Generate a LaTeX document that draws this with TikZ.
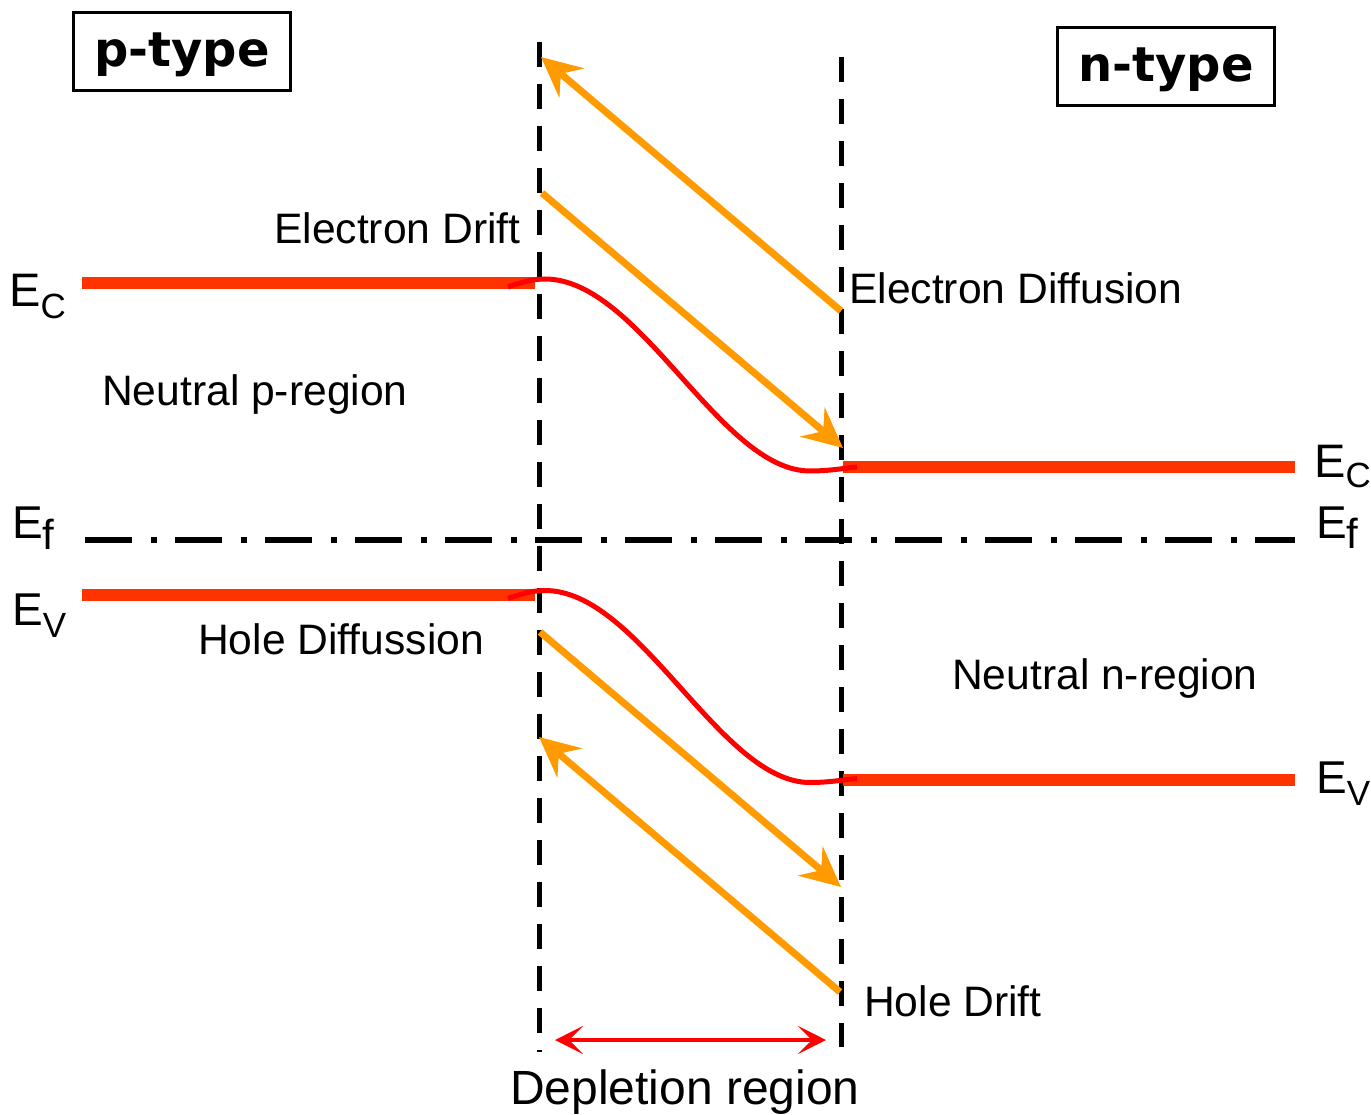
\documentclass[tikz,border=0pt]{standalone}
\usepackage{fontspec}
\setmainfont{Liberation Sans}
\newfontfamily\dvs{DejaVu Sans}
\usetikzlibrary{arrows.meta}
\definecolor{levelc}{RGB}{255,51,0}
\definecolor{curvec}{RGB}{255,0,0}
\definecolor{arrowc}{RGB}{255,155,0}
\newcommand\myfs[1]{\fontsize{#1pt}{#1pt}\selectfont}
\begin{document}
\begin{tikzpicture}[x=1pt,y=-1pt,
  lbl/.style={anchor=base west,inner sep=0pt,font=\myfs{42.6}},
  elbl/.style={anchor=base west,inner sep=0pt},
  typebox/.style={draw,line width=3pt,minimum width=217pt,minimum height=78pt,
     inner sep=0pt,text height=36pt,text depth=5pt,font=\dvs\bfseries\myfs{48}},
  vdash/.style={line width=5pt,dash pattern=on 25pt off 17pt},
  fermi/.style={line width=5.5pt,dash pattern=on 47pt off 19pt on 6pt off 18pt},
  level/.style={levelc,line width=12pt},
  band/.style={curvec,line width=5pt},
  flow/.style={arrowc,line width=7pt,-{Stealth[length=40pt,width=38pt,inset=14pt]}},
  width/.style={curvec,line width=4pt,{Stealth[length=28pt,width=28pt,inset=14pt]}-{Stealth[length=28pt,width=28pt,inset=14pt]}}
]
\useasboundingbox (0,0) rectangle (1371,1115);

% type boxes
\node[typebox] (ptype) at (182,51.5) {p-type};
\node[typebox] (ntype) at (1166,66.5) {n-type};

% boundaries of depletion region
\coordinate (LT) at (539,42);
\coordinate (LB) at (539,1052);
\coordinate (RT) at (841,57);
\coordinate (RB) at (841,1047);
\draw[vdash] (LT) -- (LB);
\draw[vdash] (RT) -- (RB);

% Fermi level
\coordinate (EfL) at (85,540);
\coordinate (EfR) at (1295,540);
\draw[fermi] (EfL) -- (EfR);

% band levels
\coordinate (ECL1) at (82,283.5);  \coordinate (ECL2) at (535,283.5);
\coordinate (ECR1) at (843,467);   \coordinate (ECR2) at (1295,467);
\coordinate (EVL1) at (82,595);    \coordinate (EVL2) at (535,595);
\coordinate (EVR1) at (843,779.5); \coordinate (EVR2) at (1295,779.5);
\draw[level] (ECL1) -- (ECL2);
\draw[level] (ECR1) -- (ECR2);
\draw[level] (EVL1) -- (EVL2);
\draw[level] (EVR1) -- (EVR2);

% band bending
\draw[band] (508,287) .. controls (522,282) and (533,279) .. (545,279)
  .. controls (640,279) and (720,471) .. (810,471)
  .. controls (830,471) and (845,468) .. (857,467);
\draw[band] (508,598.5) .. controls (522,593.5) and (533,590.5) .. (545,590.5)
  .. controls (640,590.5) and (720,782.5) .. (810,782.5)
  .. controls (830,782.5) and (845,779.5) .. (857,778.5);

% carrier flows
\coordinate (eDiffS) at (841,311);  \coordinate (eDiffE) at (541,57);
\coordinate (eDriftS) at (542,193); \coordinate (eDriftE) at (843,448);
\coordinate (hDiffS) at (540,632);  \coordinate (hDiffE) at (841,887);
\coordinate (hDriftS) at (840,992); \coordinate (hDriftE) at (539,737);
\draw[flow] (eDiffS) -- (eDiffE);
\draw[flow] (eDriftS) -- (eDriftE);
\draw[flow] (hDiffS) -- (hDiffE);
\draw[flow] (hDriftS) -- (hDriftE);

% depletion width
\coordinate (WL) at (555,1040);
\coordinate (WR) at (826,1040);
\draw[width] (WL) -- (WR);

% labels
\node[lbl] (tEDrift) at (274,244) {Electron Drift};
\node[lbl] (tEDiff) at (849,304) {Electron Diffusion};
\node[lbl] (tNp) at (102,405) {Neutral p-region};
\node[lbl] (tHDiff) at (198,654) {Hole Diffussion};
\node[lbl] (tNn) at (952,689) {Neutral n-region};
\node[lbl] (tHDrift) at (864,1016) {Hole Drift};
\node[elbl,font=\myfs{48}] (tDep) at (510,1104) {Depletion region};

% energy labels
\node[elbl] (ECLt) at (9,307) {\myfs{47}E\raisebox{-12pt}{\myfs{35}C}};
\node[elbl] (EfLt) at (12,538) {\myfs{46}E\raisebox{-11pt}{\myfs{42}f}};
\node[elbl] (EVLt) at (12,625) {\myfs{46}E\raisebox{-12pt}{\myfs{35}V}};
\node[elbl] (ECRt) at (1314,477) {\myfs{47}E\raisebox{-10pt}{\myfs{35}C}};
\node[elbl] (EfRt) at (1316,538) {\myfs{46}E\raisebox{-10pt}{\myfs{42}f}};
\node[elbl] (EVRt) at (1316,793) {\myfs{46}E\raisebox{-12pt}{\myfs{35}V}};
\end{tikzpicture}
\end{document}
